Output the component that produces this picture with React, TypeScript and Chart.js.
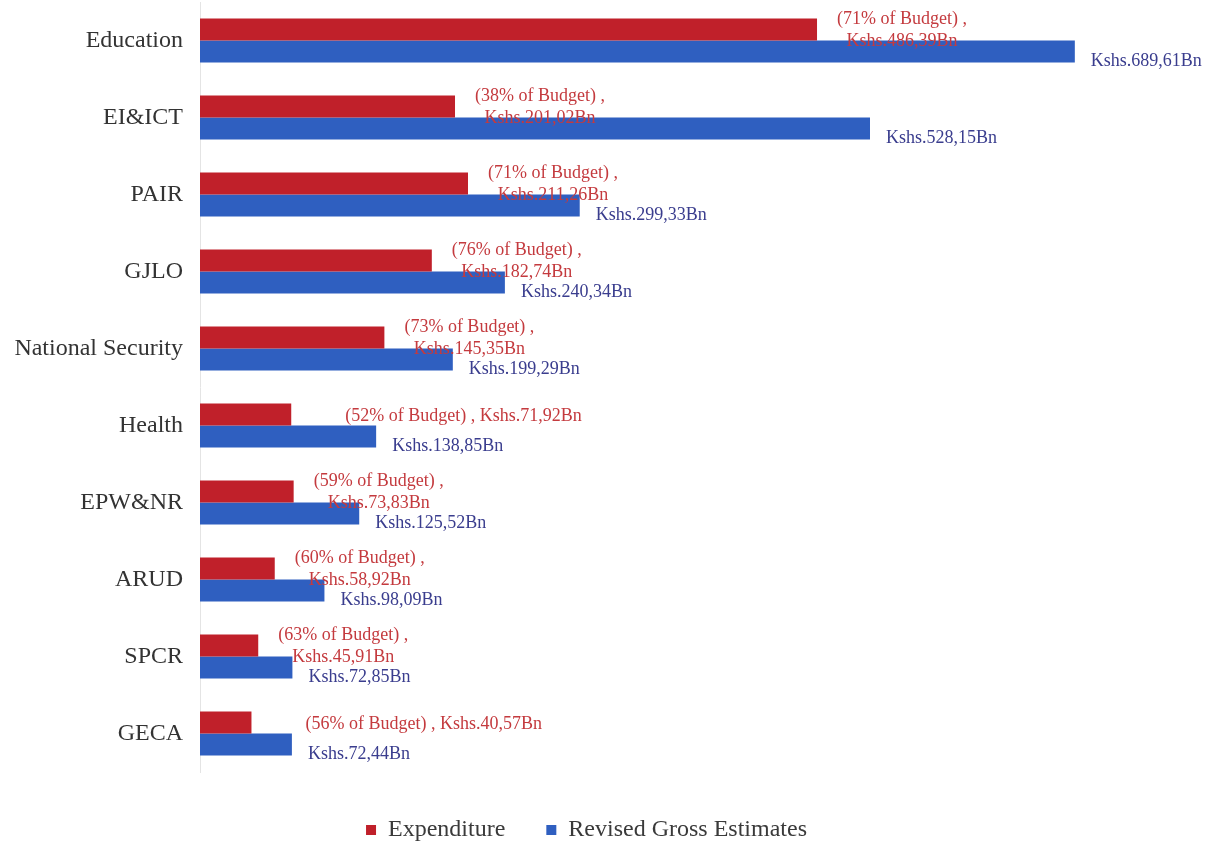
import React, { useEffect, useRef } from "react";
import { Chart, registerables } from "chart.js";

Chart.register(...registerables);

const categories = [
  "Education",
  "EI&ICT",
  "PAIR",
  "GJLO",
  "National Security",
  "Health",
  "EPW&NR",
  "ARUD",
  "SPCR",
  "GECA",
];

const expenditure = [486.39, 201.02, 211.26, 182.74, 145.35, 71.92, 73.83, 58.92, 45.91, 40.57];
const revisedGross = [689.61, 528.15, 299.33, 240.34, 199.29, 138.85, 125.52, 98.09, 72.85, 72.44];

const expenditureLabels = [
  ["(71% of Budget) ,", "Kshs.486,39Bn"],
  ["(38% of Budget) ,", "Kshs.201,02Bn"],
  ["(71% of Budget) ,", "Kshs.211,26Bn"],
  ["(76% of Budget) ,", "Kshs.182,74Bn"],
  ["(73% of Budget) ,", "Kshs.145,35Bn"],
  ["(52% of Budget) , Kshs.71,92Bn"],
  ["(59% of Budget) ,", "Kshs.73,83Bn"],
  ["(60% of Budget) ,", "Kshs.58,92Bn"],
  ["(63% of Budget) ,", "Kshs.45,91Bn"],
  ["(56% of Budget) , Kshs.40,57Bn"],
];

const revisedLabels = [
  "Kshs.689,61Bn",
  "Kshs.528,15Bn",
  "Kshs.299,33Bn",
  "Kshs.240,34Bn",
  "Kshs.199,29Bn",
  "Kshs.138,85Bn",
  "Kshs.125,52Bn",
  "Kshs.98,09Bn",
  "Kshs.72,85Bn",
  "Kshs.72,44Bn",
];

const SERIF = '"Liberation Serif", "Times New Roman", serif';

const valueLabels = {
  id: "valueLabels",
  afterDatasetsDraw(chart: any) {
    const ctx = chart.ctx;
    const m0 = chart.getDatasetMeta(0);
    const m1 = chart.getDatasetMeta(1);
    ctx.save();
    ctx.font = `18px ${SERIF}`;
    ctx.textBaseline = "middle";
    m0.data.forEach((bar: any, i: number) => {
      const lines = expenditureLabels[i];
      ctx.fillStyle = "#C43A3E";
      if (lines.length === 1) {
        ctx.textAlign = "left";
        ctx.fillText(lines[0], bar.x + 54, bar.y + 2);
      } else {
        const x = bar.x + 20;
        const w = ctx.measureText(lines[0]).width;
        ctx.textAlign = "center";
        ctx.fillText(lines[0], x + w / 2, bar.y - 10);
        ctx.fillText(lines[1], x + w / 2, bar.y + 12);
      }
    });
    m1.data.forEach((bar: any, i: number) => {
      ctx.fillStyle = "#3A3D8E";
      ctx.textAlign = "left";
      ctx.fillText(revisedLabels[i], bar.x + 16, bar.y + 10);
    });
    ctx.restore();
  },
};

export default function App() {
  const ref = useRef<HTMLCanvasElement | null>(null);

  useEffect(() => {
    if (!ref.current) return;
    const chart = new Chart(ref.current, {
      type: "bar",
      data: {
        labels: categories,
        datasets: [
          {
            label: "Expenditure",
            data: expenditure,
            backgroundColor: "#C0202A",
            borderWidth: 0,
          },
          {
            label: "Revised Gross Estimates",
            data: revisedGross,
            backgroundColor: "#2F5FC0",
            borderWidth: 0,
          },
        ],
      },
      options: {
        indexAxis: "y",
        responsive: false,
        animation: false,
        maintainAspectRatio: false,
        datasets: {
          bar: { barPercentage: 1, categoryPercentage: 0.57 },
        },
        layout: { padding: { top: 2, right: 37, left: 0, bottom: 0 } },
        scales: {
          x: {
            type: "linear",
            min: 0,
            max: 767,
            ticks: { display: false },
            grid: { display: false },
            border: { display: false },
            afterFit: (scale: any) => {
              scale.height = 5;
              scale.paddingLeft = 0;
              scale.paddingRight = 0;
            },
          },
          y: {
            ticks: {
              font: { family: SERIF, size: 24 },
              color: "#333333",
              padding: 17,
            },
            grid: { display: false, drawTicks: false },
            border: { display: true, color: "#e4e4e4", width: 1 },
            afterFit: (scale: any) => {
              scale.width = 200;
              scale.paddingTop = 0;
              scale.paddingBottom = 0;
            },
          },
        },
        plugins: {
          legend: {
            position: "bottom",
            labels: {
              boxWidth: 10,
              boxHeight: 10,
              padding: 41,
              color: "#3a3a3a",
              font: { family: SERIF, size: 24 },
            },
          },
          tooltip: { enabled: false },
        },
      },
      plugins: [valueLabels],
    });
    return () => chart.destroy();
  }, []);

  return (
    <div
      style={{
        position: "fixed",
        left: 0,
        top: 0,
        width: 1210,
        height: 843,
        overflow: "hidden",
        background: "#ffffff",
      }}
    >
      <canvas ref={ref} width={1210} height={852} style={{ display: "block" }} />
    </div>
  );
}
